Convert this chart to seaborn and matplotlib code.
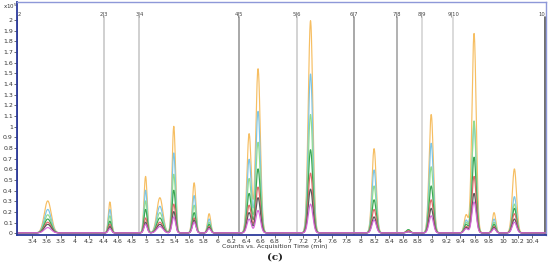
import numpy as np
import pandas as pd
import matplotlib.pyplot as plt
import seaborn as sns

# Peak table (times in min, heights in counts x1e5)
peak_times = [3.62, 4.49, 4.99, 5.19, 5.385, 5.67, 5.88, 6.44, 6.565, 7.30,
              8.19, 8.67, 8.99, 9.48, 9.59, 9.87, 10.155]
peak_widths = [0.048, 0.021, 0.022, 0.042, 0.024, 0.024, 0.022, 0.03, 0.032, 0.032,
               0.03, 0.027, 0.03, 0.027, 0.03, 0.024, 0.03]

series_names = ['s1', 's2', 's3', 's4', 's5', 's6', 's7']
series_colors = ['#f6be62', '#7cc6e8', '#90dc90', '#3aa655', '#e06a6a', '#5a5a5a', '#d866d8']

heights_s1 = [0.30, 0.29, 0.53, 0.33, 1.00, 0.47, 0.18, 0.93, 1.54, 1.99, 0.79, 0.02, 1.11, 0.17, 1.87, 0.19, 0.60]
heights_s2 = [0.22, 0.22, 0.40, 0.25, 0.75, 0.35, 0.13, 0.69, 1.14, 1.49, 0.59, 0.02, 0.84, 0.12, 1.01, 0.13, 0.34]
heights_s3 = [0.17, 0.16, 0.30, 0.19, 0.55, 0.26, 0.10, 0.51, 0.85, 1.11, 0.44, 0.03, 0.62, 0.10, 1.05, 0.10, 0.27]
heights_s4 = [0.13, 0.11, 0.22, 0.14, 0.40, 0.19, 0.08, 0.37, 0.60, 0.78, 0.31, 0.03, 0.44, 0.08, 0.71, 0.08, 0.23]
heights_s5 = [0.10, 0.08, 0.14, 0.10, 0.27, 0.14, 0.06, 0.26, 0.43, 0.56, 0.22, 0.02, 0.31, 0.06, 0.53, 0.06, 0.18]
heights_s6 = [0.08, 0.06, 0.10, 0.08, 0.20, 0.12, 0.05, 0.19, 0.33, 0.41, 0.15, 0.01, 0.23, 0.05, 0.37, 0.05, 0.13]
heights_s7 = [0.05, 0.04, 0.08, 0.06, 0.15, 0.10, 0.04, 0.13, 0.21, 0.27, 0.12, 0.01, 0.16, 0.04, 0.29, 0.04, 0.10]
all_heights = [heights_s1, heights_s2, heights_s3, heights_s4, heights_s5, heights_s6, heights_s7]

# Time segment markers
marker_times = [3.19, 4.408, 4.903, 6.303, 7.107, 7.91, 8.508, 8.862, 9.30, 10.59]
marker_labels = ['2', '2|3', '3|4', '4|5', '5|6', '6|7', '7|8', '8|9', '9|10', '10']
marker_colors = ['#555555', '#c8c8c8', '#c8c8c8', '#9a9a9a', '#cccccc',
                 '#9a9a9a', '#a4a4a4', '#d4d4d4', '#d4d4d4', '#555555']

# build long-form traces
t = np.linspace(3.2, 10.59, 3000)
frames = []
for name, hs in zip(series_names, all_heights):
    y = np.full_like(t, 0.004)
    for c, w, h in zip(peak_times, peak_widths, hs):
        y += h * np.exp(-0.5 * ((t - c) / w) ** 2)
    frames.append(pd.DataFrame({'time': t, 'counts': y, 'series': name}))
df = pd.concat(frames, ignore_index=True)

sns.set_theme(style='white')
plt.rcParams['font.family'] = ['DejaVu Sans']

fig = plt.figure(figsize=(5.5, 2.66), dpi=100)
ax = fig.add_axes([0.031, 0.1165, 0.961, 0.8755])

last = len(marker_times) - 1
for i, (x, lab, col) in enumerate(zip(marker_times, marker_labels, marker_colors)):
    ax.plot([x, x], [-0.02, 2.027], color=col, lw=1.2, zorder=1, clip_on=True)
    if i == 0:
        ax.text(x + 0.01, 2.03, lab, fontsize=3.8, color='#444444', ha='left', va='bottom')
    elif i == last:
        ax.text(x - 0.01, 2.03, lab, fontsize=3.8, color='#444444', ha='right', va='bottom')
    else:
        ax.text(x, 2.03, lab, fontsize=3.8, color='#444444', ha='center', va='bottom')

sns.lineplot(data=df, x='time', y='counts', hue='series', palette=series_colors,
             hue_order=series_names, lw=0.85, legend=False, ax=ax, zorder=2)

ax.set_xlim(3.19, 10.592)
ax.set_ylim(-0.016, 2.168)
ax.set_xticks(np.arange(3.4, 10.41, 0.2))
ax.set_xticklabels([f'{v:g}' for v in np.round(np.arange(3.4, 10.41, 0.2), 1)])
ax.set_yticks(np.round(np.arange(0, 2.01, 0.1), 1))
ax.set_yticklabels([f'{v:g}' for v in np.round(np.arange(0, 2.01, 0.1), 1)])
ax.tick_params(axis='both', labelsize=4.5, length=2, width=0.5, pad=1,
               colors='#333333', direction='out', left=True, bottom=True)
ax.set_xlabel('')
ax.set_ylabel('')

for side in ['left', 'bottom']:
    ax.spines[side].set_color('#2c3a9c')
    ax.spines[side].set_linewidth(1.3)
for side in ['top', 'right']:
    ax.spines[side].set_color('#8e98d8')
    ax.spines[side].set_linewidth(1.0)

fig.text(0.006, 0.975, 'x10$^5$', fontsize=4, color='#333333', ha='left', va='center')
fig.text(0.5, 0.072, 'Counts vs. Acquisition Time (min)', fontsize=4.5, color='#333333',
         ha='center', va='center')
fig.text(0.5, 0.034, '(c)', fontsize=7.5, fontweight='bold', family='DejaVu Serif',
         color='#222222', ha='center', va='center')

plt.savefig('out.png', dpi=100)
